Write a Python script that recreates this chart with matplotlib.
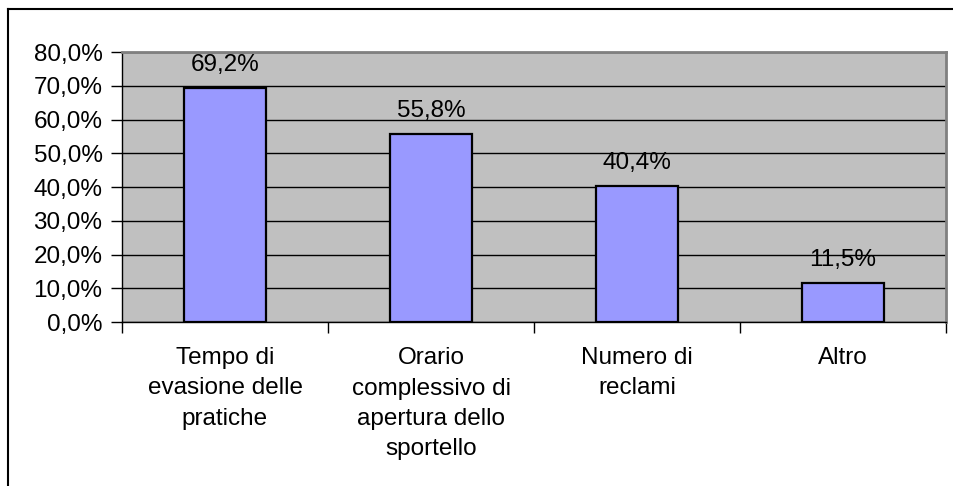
import numpy as np
import matplotlib
matplotlib.use("Agg")
import matplotlib.pyplot as plt
from matplotlib.lines import Line2D

plt.rcParams['font.family'] = ['Liberation Sans', 'DejaVu Sans']

categories = ["Tempo di\nevasione delle\npratiche",
              "Orario\ncomplessivo di\napertura dello\nsportello",
              "Numero di\nreclami",
              "Altro"]
values = [69.2, 55.8, 40.4, 11.5]
yticks = [0, 10, 20, 30, 40, 50, 60, 70, 80]

fs = 17.5

fig = plt.figure(figsize=(9.54, 4.86), dpi=100)
ax = fig.add_axes([122/954, 1 - 322/486, (946 - 122)/954, (322 - 52)/486])
ax.set_facecolor('#C0C0C0')

x = np.arange(len(values))
ax.bar(x, values, width=0.4, color='#9999FF', edgecolor='black', linewidth=1.6, zorder=3)

for xi, v in zip(x, values):
    lab = f"{v:.1f}%".replace('.', ',')
    ax.annotate(lab, (xi, v), xytext=(0, 23), textcoords='offset pixels',
                ha='center', va='center', fontsize=fs)

ax.set_xlim(-0.5, len(values) - 0.5)
ax.set_ylim(0, 80)
ax.set_yticks(yticks)
ax.set_yticklabels([f"{t:.1f}%".replace('.', ',') for t in yticks], fontsize=fs)
ax.yaxis.grid(True, color='black', linewidth=1, zorder=1)
ax.set_axisbelow(True)

ax.set_xticks(np.arange(len(values) + 1) - 0.5)
ax.set_xticklabels([])
ax.set_xticks(x, minor=True)
ax.set_xticklabels(categories, minor=True, fontsize=fs, linespacing=1.5)
ax.tick_params(axis='x', which='minor', length=0, pad=18)
ax.tick_params(axis='x', which='major', length=8, width=1, direction='out')
ax.tick_params(axis='y', length=8, width=1, direction='out', pad=6)

for s in ['left', 'bottom']:
    ax.spines[s].set_color('black')
    ax.spines[s].set_linewidth(1)
for s in ['top', 'right']:
    ax.spines[s].set_color('#808080')
    ax.spines[s].set_linewidth(2)

# chart border (left and top visible)
bx = 8.5/954
by = 1 - 9.5/486
fig.add_artist(Line2D([bx, bx], [0, by], color='black', linewidth=1.5, transform=fig.transFigure))
fig.add_artist(Line2D([bx, 1], [by, by], color='black', linewidth=1.5, transform=fig.transFigure))

fig.savefig('out.png', dpi=100)
